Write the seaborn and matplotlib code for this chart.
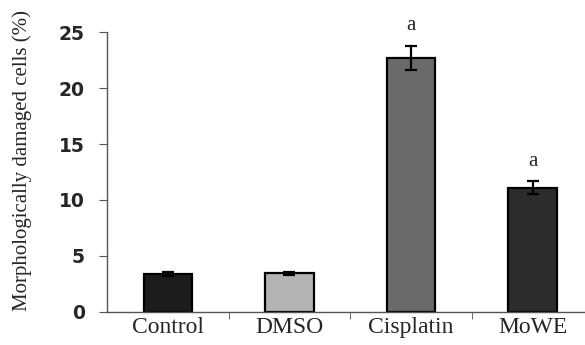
import pandas as pd
import seaborn as sns
import matplotlib.pyplot as plt
from matplotlib.ticker import FixedLocator

# ========== DATA ==========
groups = ["Control", "DMSO", "Cisplatin", "MoWE"]
damaged = [3.4, 3.45, 22.7, 11.1]
sem = [0.2, 0.15, 1.1, 0.6]
letters = ["", "", "a", "a"]
colors = ["#1c1c1c", "#b4b4b4", "#6a6a6a", "#2c2c2c"]

df = pd.DataFrame({"Group": groups, "Damaged": damaged, "SEM": sem})

sns.set_style("white")
fig = plt.figure(figsize=(5.85, 3.45), dpi=100)
ax = fig.add_axes([0.183, 0.096, 0.817, 0.811])

sns.barplot(data=df, x="Group", y="Damaged", hue="Group", palette=colors,
            width=0.4, edgecolor="black", linewidth=1.6, legend=False, ax=ax)
ax.errorbar(range(len(groups)), df["Damaged"], yerr=df["SEM"], fmt="none",
            ecolor="black", elinewidth=1.6, capsize=4, capthick=1.6)

for i, (v, e, lab) in enumerate(zip(damaged, sem, letters)):
    if lab:
        ax.text(i, v + e + 0.9, lab, ha="center", va="bottom",
                family="Liberation Serif", fontsize=15, clip_on=False)

ax.set_xlim(-0.5, 3.43)
ax.set_ylim(0, 25)
ax.set_yticks([0, 5, 10, 15, 20, 25])
ax.set_yticklabels(["0", "5", "10", "15", "20", "25"], fontweight="bold",
                   family="DejaVu Sans", fontsize=13.5)
ax.set_xticks(range(len(groups)))
ax.set_xticklabels(groups, family="Liberation Serif", fontsize=17)
ax.xaxis.set_minor_locator(FixedLocator([0.5, 1.5, 2.5]))
ax.tick_params(axis="x", which="major", length=0, pad=4)
ax.tick_params(axis="x", which="minor", length=5, direction="out",
               color="#555555", bottom=True)
ax.tick_params(axis="y", length=6, direction="out", color="#555555",
               left=True, pad=10)

ax.set_xlabel("")
ax.set_ylabel("Morphologically damaged cells (%)", family="Liberation Serif",
              fontsize=15)
ax.yaxis.set_label_coords(-0.158, 0.54)

sns.despine(ax=ax, top=True, right=True)
for s in ["left", "bottom"]:
    ax.spines[s].set_color("#555555")
    ax.spines[s].set_linewidth(1.0)

plt.savefig("out.png", dpi=100)
